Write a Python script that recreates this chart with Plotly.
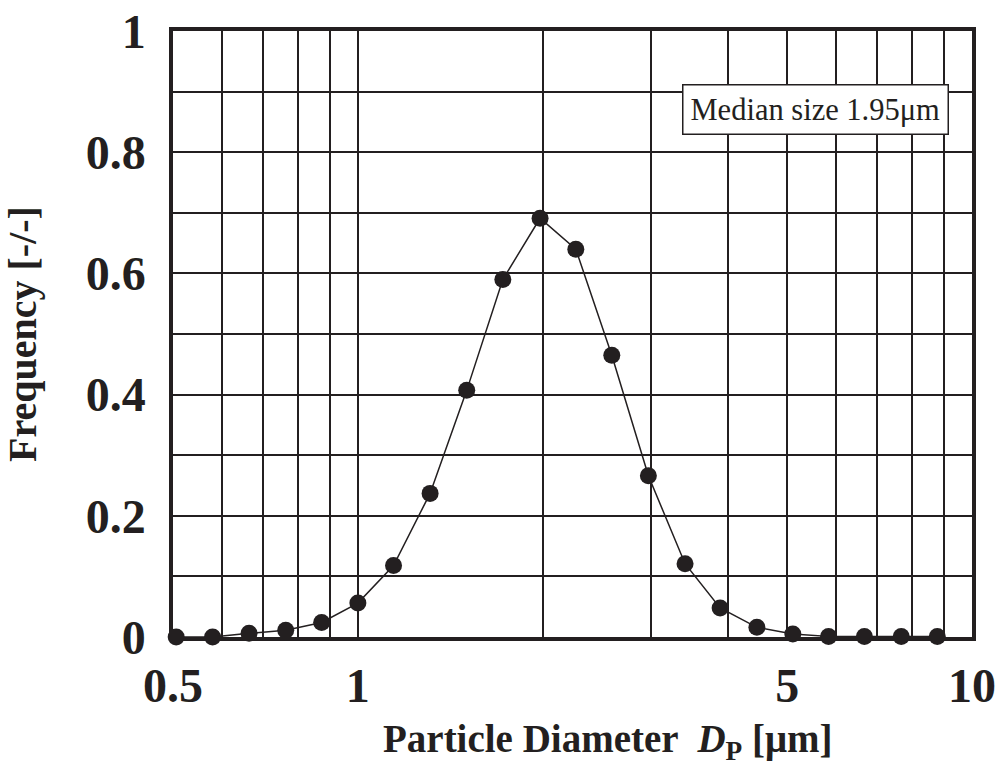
import plotly.graph_objects as go

# Data
diameter = [0.506, 0.580, 0.665, 0.763, 0.873, 1.0, 1.143, 1.311, 1.504, 1.722,
            1.98, 2.264, 2.591, 2.972, 3.41, 3.889, 4.464, 5.108, 5.84, 6.68, 7.67, 8.78]
frequency = [0.0, 0.0, 0.006, 0.011, 0.024, 0.056, 0.118, 0.237, 0.407, 0.590,
             0.691, 0.640, 0.465, 0.266, 0.121, 0.048, 0.016, 0.005, 0.001, 0.001, 0.001, 0.001]

x_tickvals = [0.5, 1, 5, 10]
x_ticktext = ["0.5", "1", "5", "10"]
x_minor_grid = [0.6, 0.7, 0.8, 0.9, 2, 3, 4, 6, 7, 8, 9]
y_tickvals = [0, 0.2, 0.4, 0.6, 0.8, 1.0]
y_ticktext = ["0", "0.2", "0.4", "0.6", "0.8", "1"]
y_minor_grid = [0.1, 0.3, 0.5, 0.7, 0.9]

annotation_text = "Median size 1.95μm"
x_title = "<b>Particle Diameter  <i>D</i><sub>P</sub> [μm]</b>"
y_title = "<b>Frequency [-/-]</b>"

serif = "Liberation Serif, Times New Roman, serif"
ink = "#231f20"

fig = go.Figure()
fig.add_trace(go.Scatter(
    x=diameter, y=frequency, mode="lines+markers",
    line=dict(color=ink, width=1.5),
    marker=dict(color=ink, size=17),
    cliponaxis=False, showlegend=False,
))

fig.update_layout(
    width=999, height=767,
    margin=dict(l=173, r=27, t=31, b=130),
    paper_bgcolor="white", plot_bgcolor="white",
    font=dict(family=serif, color=ink),
    xaxis=dict(
        type="log", range=[-0.30103, 1.0],
        tickmode="array", tickvals=x_tickvals, ticktext=x_ticktext,
        tickfont=dict(size=48, family=serif, weight="bold"),
        showgrid=True, gridcolor=ink, gridwidth=1.5,
        minor=dict(tickmode="array", tickvals=x_minor_grid, showgrid=True,
                   gridcolor=ink, gridwidth=1.5, ticks=""),
        showline=True, linecolor=ink, linewidth=3.5, mirror=True,
        ticks="", ticklabelstandoff=4, automargin=False,
        zeroline=False,
    ),
    yaxis=dict(
        range=[0, 1.0],
        tickmode="array", tickvals=y_tickvals, ticktext=y_ticktext,
        tickfont=dict(size=48, family=serif, weight="bold"),
        showgrid=True, gridcolor=ink, gridwidth=1.5,
        minor=dict(tickmode="array", tickvals=y_minor_grid, showgrid=True,
                   gridcolor=ink, gridwidth=1.5, ticks=""),
        showline=True, linecolor=ink, linewidth=3.5, mirror=True,
        ticks="", ticklabelstandoff=14, automargin=False,
        title=dict(text=y_title, font=dict(size=40, family=serif), standoff=39),
        zeroline=False,
    ),
    annotations=[
        dict(
            text=annotation_text, xref="paper", yref="paper",
            x=0.804, y=0.871, xanchor="center", yanchor="middle", showarrow=False,
            font=dict(size=30.5, family=serif, color=ink),
            bgcolor="white", bordercolor=ink, borderwidth=1.5, borderpad=7,
        ),
        dict(
            text=x_title, xref="paper", yref="paper",
            x=0.545, y=-0.172, xanchor="center", yanchor="middle", showarrow=False,
            font=dict(size=39, family=serif, color=ink),
        ),
    ],
)

fig.write_html("out.html")
